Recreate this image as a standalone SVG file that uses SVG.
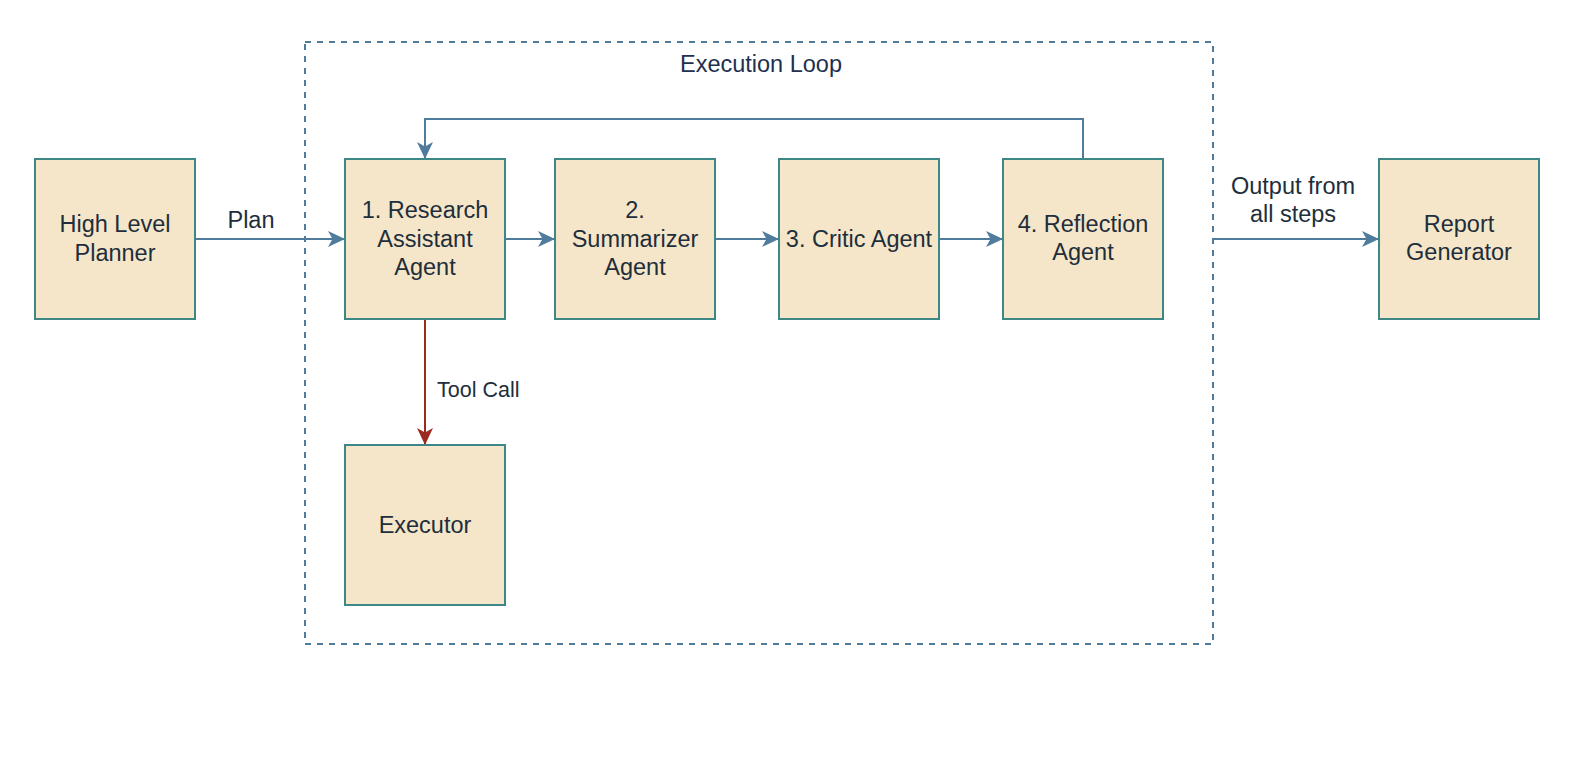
<svg xmlns="http://www.w3.org/2000/svg" width="1596" height="758" viewBox="0 0 1596 758">
<style>
.box{fill:#F5E6C9;stroke:#3E8787;stroke-width:2}
.lbl{font-family:"Liberation Sans",Arial,sans-serif;font-size:23.5px;fill:#1E2E3B;text-anchor:middle}
.edge{fill:none;stroke:#4F7C9C;stroke-width:2}
.red{fill:none;stroke:#9B2A22;stroke-width:2}
.elbl{font-family:"Liberation Sans",Arial,sans-serif;font-size:23.5px;fill:#1E2E3B;text-anchor:middle}
</style>
<defs>
<marker id="ab" markerUnits="userSpaceOnUse" markerWidth="20" markerHeight="20" viewBox="-18 -10 20 20" refX="0" refY="0" orient="auto">
<path d="M0,0 L-17,-8 L-12.5,0 L-17,8 Z" fill="#4F7C9C"/>
</marker>
<marker id="ar" markerUnits="userSpaceOnUse" markerWidth="20" markerHeight="20" viewBox="-18 -10 20 20" refX="0" refY="0" orient="auto">
<path d="M0,0 L-17,-8 L-12.5,0 L-17,8 Z" fill="#9B2A22"/>
</marker>
</defs>
<rect width="1596" height="758" fill="#ffffff"/>
<g id="execution-loop">
<rect x="305" y="42" width="908" height="602" fill="none" stroke="#4F7C9C" stroke-width="2" stroke-dasharray="6 6"/>
<text x="761" y="72" style="font-family:'Liberation Sans',Arial,sans-serif;font-size:23.5px;fill:#22304F;text-anchor:middle">Execution Loop</text>
</g>
<g id="connectors">
<path class="edge" d="M195,239 L345,239" marker-end="url(#ab)"/>
<text class="elbl" x="251" y="228">Plan</text>
<path class="edge" d="M505,239 L555,239" marker-end="url(#ab)"/>
<path class="edge" d="M715,239 L779,239" marker-end="url(#ab)"/>
<path class="edge" d="M939,239 L1003,239" marker-end="url(#ab)"/>
<path class="edge" d="M1083,159 L1083,119 L425,119 L425,159" marker-end="url(#ab)"/>
<path class="red" d="M425,319 L425,445" marker-end="url(#ar)"/>
<text x="437" y="397" style="font-family:'Liberation Sans',Arial,sans-serif;font-size:21.5px;fill:#1E2E3B">Tool Call</text>
<path class="edge" d="M1213,239 L1379,239" marker-end="url(#ab)"/>
<text class="elbl" x="1293" y="194">Output from</text>
<text class="elbl" x="1293" y="222">all steps</text>
</g>
<g id="high-level-planner">
<rect class="box" x="35" y="159" width="160" height="160"/>
<text class="lbl" x="115" y="232">High Level</text>
<text class="lbl" x="115" y="261">Planner</text>
</g>
<g id="research-assistant">
<rect class="box" x="345" y="159" width="160" height="160"/>
<text class="lbl" x="425" y="218">1. Research</text>
<text class="lbl" x="425" y="247">Assistant</text>
<text class="lbl" x="425" y="275">Agent</text>
</g>
<g id="summarizer">
<rect class="box" x="555" y="159" width="160" height="160"/>
<text class="lbl" x="635" y="218">2.</text>
<text class="lbl" x="635" y="247">Summarizer</text>
<text class="lbl" x="635" y="275">Agent</text>
</g>
<g id="critic">
<rect class="box" x="779" y="159" width="160" height="160"/>
<text class="lbl" x="859" y="247">3. Critic Agent</text>
</g>
<g id="reflection">
<rect class="box" x="1003" y="159" width="160" height="160"/>
<text class="lbl" x="1083" y="232">4. Reflection</text>
<text class="lbl" x="1083" y="260">Agent</text>
</g>
<g id="executor">
<rect class="box" x="345" y="445" width="160" height="160"/>
<text class="lbl" x="425" y="533">Executor</text>
</g>
<g id="report-generator">
<rect class="box" x="1379" y="159" width="160" height="160"/>
<text class="lbl" x="1459" y="232">Report</text>
<text class="lbl" x="1459" y="260">Generator</text>
</g>
</svg>
